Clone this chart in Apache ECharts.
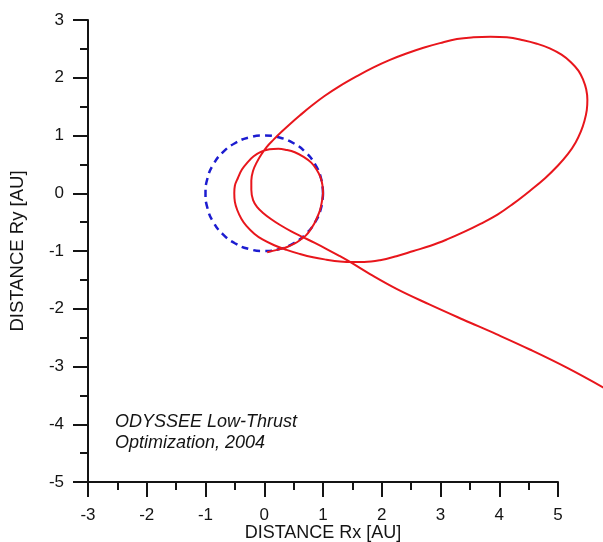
<!DOCTYPE html>
<html>
<head>
<meta charset="utf-8">
<script src="https://cdn.jsdelivr.net/npm/echarts@6/dist/echarts.min.js"></script>
<style>
html,body{margin:0;padding:0;background:#fff;}
#chart{width:603px;height:542px;}
</style>
</head>
<body>
<div id="chart"></div>
<script>
// Earth orbit (blue dashed): unit circle around the Sun
var earthOrbit = [
  [1.000,0.000],[0.966,0.259],[0.866,0.500],[0.707,0.707],[0.500,0.866],[0.259,0.966],
  [0.000,1.000],[-0.259,0.966],[-0.500,0.866],[-0.707,0.707],[-0.866,0.500],[-0.966,0.259],
  [-1.000,0.000],[-0.966,-0.259],[-0.866,-0.500],[-0.707,-0.707],[-0.500,-0.866],[-0.259,-0.966],
  [0.000,-1.000],[0.259,-0.966],[0.500,-0.866],[0.707,-0.707],[0.866,-0.500],[0.966,-0.259],
  [1.000,0.000]
];

// Spacecraft trajectory (red), in order of flight
var trajectory = [
  [0.05,-1.02],[0.22,-0.98],[0.39,-0.93],[0.52,-0.87],[0.61,-0.81],[0.71,-0.73],
  [0.78,-0.64],[0.85,-0.53],[0.90,-0.42],[0.95,-0.29],[0.98,-0.15],[1.00,0.00],
  [0.99,0.14],[0.96,0.27],[0.89,0.41],[0.80,0.53],[0.67,0.63],[0.52,0.71],
  [0.38,0.75],[0.24,0.77],[0.09,0.76],[-0.05,0.72],[-0.18,0.64],[-0.28,0.54],
  [-0.38,0.41],[-0.45,0.26],[-0.50,0.13],[-0.51,0.00],[-0.50,-0.15],[-0.46,-0.29],
  [-0.39,-0.44],[-0.30,-0.57],[-0.17,-0.70],[-0.03,-0.80],[0.17,-0.90],[0.38,-0.98],
  [0.60,-1.05],[0.83,-1.11],[1.06,-1.15],[1.29,-1.18],[1.50,-1.19],[1.70,-1.19],
  [1.97,-1.16],[2.25,-1.09],[2.54,-1.00],[2.83,-0.91],[3.11,-0.80],[3.40,-0.67],
  [3.68,-0.53],[3.97,-0.37],[4.24,-0.18],[4.52,0.04],[4.78,0.26],[5.00,0.48],
  [5.17,0.68],[5.30,0.88],[5.39,1.07],[5.45,1.25],[5.49,1.44],[5.50,1.62],
  [5.48,1.80],[5.43,1.96],[5.35,2.12],[5.22,2.27],[5.06,2.40],[4.86,2.51],
  [4.64,2.59],[4.41,2.65],[4.13,2.70],[3.85,2.71],[3.56,2.70],[3.28,2.67],
  [2.99,2.60],[2.71,2.52],[2.42,2.42],[2.14,2.31],[1.86,2.18],[1.58,2.03],
  [1.29,1.86],[1.02,1.68],[0.80,1.51],[0.61,1.35],[0.44,1.20],[0.29,1.06],
  [0.15,0.92],[0.04,0.80],[-0.05,0.67],[-0.13,0.53],[-0.19,0.39],[-0.22,0.22],
  [-0.22,0.06],[-0.19,-0.12],[-0.12,-0.24],[-0.02,-0.34],[0.12,-0.45],[0.27,-0.55],
  [0.46,-0.66],[0.66,-0.76],[0.86,-0.86],[1.07,-0.97],[1.27,-1.08],[1.46,-1.19],
  [1.80,-1.40],[2.26,-1.66],[2.80,-1.92],[3.39,-2.19],[3.95,-2.44],[4.53,-2.71],
  [5.15,-3.02],[5.80,-3.38]
];

var xTicks = {min:-3, max:5, step:1};
var yTicks = {min:-5, max:3, step:1};
var xTitle = 'DISTANCE Rx [AU]';
var yTitle = 'DISTANCE Ry [AU]';
var noteLines = ['ODYSSEE Low-Thrust', 'Optimization, 2004'];

var FONT = "'Liberation Sans', Arial, sans-serif";
var INK = '#141414';
var W = 603;
var G = {left: 88, right: 45, top: 20, bottom: 60};
// data grid spans to the right edge with the same scale, so curves run past x = 5
var xMaxExt = xTicks.max + G.right * (xTicks.max - xTicks.min) / (W - G.left - G.right);

function axisCommon() {
  return {
    type: 'value',
    gridIndex: 0,
    axisLine: {show: true, onZero: false, lineStyle: {color: INK, width: 2}},
    axisTick: {show: true, length: 15, lineStyle: {color: INK, width: 2}},
    minorTick: {show: true, splitNumber: 2, length: 8, lineStyle: {color: INK, width: 2}},
    splitLine: {show: false},
    minorSplitLine: {show: false},
    axisLabel: {margin: 24, fontSize: 17, color: INK, fontFamily: FONT},
    nameLocation: 'middle',
    nameMoveOverlap: false,
    nameTextStyle: {fontSize: 18, color: INK, fontFamily: FONT}
  };
}

var xAxis = axisCommon();
xAxis.min = xTicks.min; xAxis.max = xTicks.max; xAxis.interval = xTicks.step;
xAxis.name = xTitle; xAxis.nameGap = 42;
xAxis.axisLabel.margin = 25;

var yAxis = axisCommon();
yAxis.min = yTicks.min; yAxis.max = yTicks.max; yAxis.interval = yTicks.step;
yAxis.name = yTitle; yAxis.nameGap = 61;
yAxis.nameTextStyle.fontSize = 18.5;

var hiddenAxis = {type: 'value', gridIndex: 1, show: false, splitLine: {show: false}};

var chart = echarts.init(document.getElementById('chart'), null, {renderer: 'canvas'});
chart.setOption({
  animation: false,
  backgroundColor: '#ffffff',
  grid: [
    {left: G.left, right: G.right, top: G.top, bottom: G.bottom, containLabel: false, outerBoundsMode: 'none'},
    {left: G.left, right: 0, top: G.top, bottom: G.bottom, containLabel: false, outerBoundsMode: 'none'}
  ],
  xAxis: [xAxis, Object.assign({}, hiddenAxis, {min: xTicks.min, max: xMaxExt})],
  yAxis: [yAxis, Object.assign({}, hiddenAxis, {min: yTicks.min, max: yTicks.max})],
  graphic: noteLines.map(function (t, i) {
    return {
      type: 'text', left: 115, top: 413 + i * 21,
      style: {text: t, fill: INK, font: 'italic 18px ' + FONT}
    };
  }),
  series: [
    {
      type: 'line', xAxisIndex: 1, yAxisIndex: 1,
      data: earthOrbit, symbol: 'none', smooth: 0.5, clip: false,
      lineStyle: {color: '#1c1cd0', width: 2.5, type: [7, 5]}
    },
    {
      type: 'line', xAxisIndex: 1, yAxisIndex: 1,
      data: trajectory, symbol: 'none', smooth: 0.4, clip: false,
      lineStyle: {color: '#e8161c', width: 2}
    }
  ]
});
</script>
</body>
</html>
